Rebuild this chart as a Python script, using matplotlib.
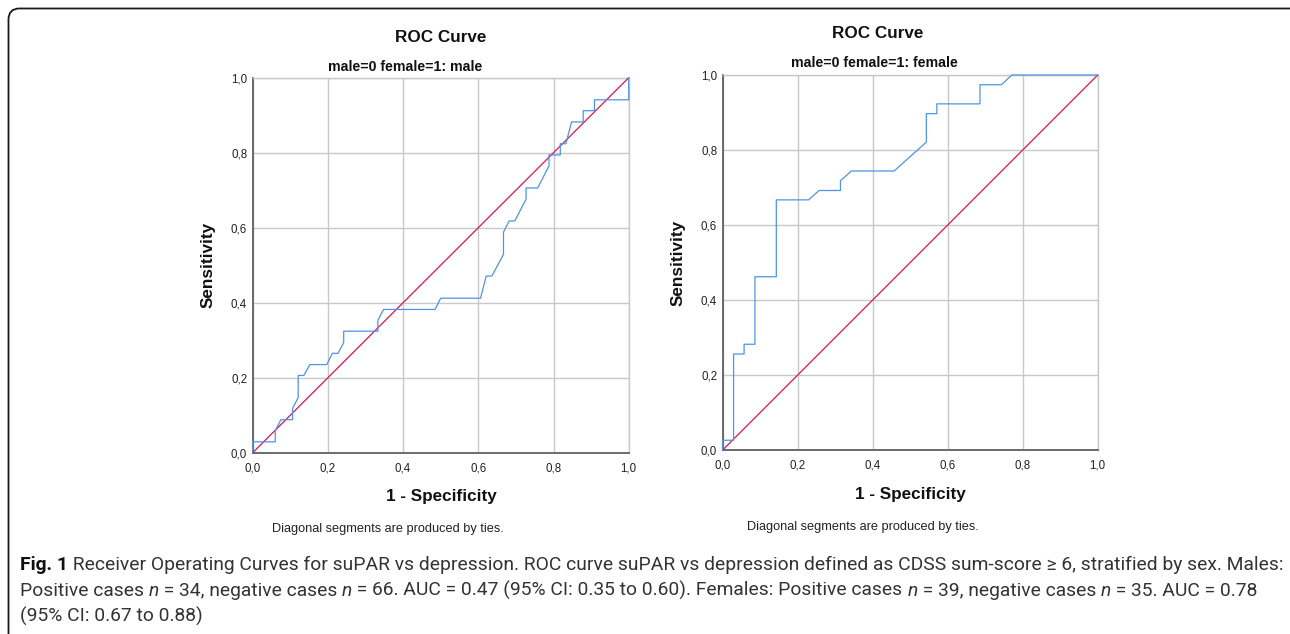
import matplotlib

matplotlib.use("Agg")
import matplotlib.pyplot as plt
from matplotlib.patches import FancyBboxPatch
from matplotlib.transforms import IdentityTransform

W, H = 1290, 634

# ROC curve (1 - specificity, sensitivity)
male_fpr = [0.0, 0.0, 0.060, 0.060, 0.075, 0.106, 0.106, 0.121, 0.121, 0.136, 0.152, 0.197,
            0.212, 0.227, 0.242, 0.242, 0.333, 0.333, 0.348, 0.485, 0.500, 0.606, 0.621, 0.636,
            0.667, 0.667, 0.682, 0.697, 0.727, 0.727, 0.758, 0.788, 0.788, 0.818, 0.818, 0.833,
            0.848, 0.879, 0.879, 0.909, 0.909, 1.0, 1.0]
male_tpr = [0.0, 0.029, 0.029, 0.059, 0.088, 0.088, 0.118, 0.147, 0.206, 0.206, 0.235, 0.235,
            0.265, 0.265, 0.294, 0.324, 0.324, 0.353, 0.382, 0.382, 0.412, 0.412, 0.471, 0.471,
            0.529, 0.588, 0.618, 0.618, 0.676, 0.706, 0.706, 0.765, 0.794, 0.794, 0.824, 0.824,
            0.882, 0.882, 0.912, 0.912, 0.941, 0.941, 1.0]

female_fpr = [0.0, 0.0, 0.029, 0.029, 0.057, 0.057, 0.086, 0.086, 0.143, 0.143, 0.229, 0.257,
              0.314, 0.314, 0.343, 0.457, 0.543, 0.543, 0.571, 0.571, 0.686, 0.686, 0.743,
              0.771, 1.0]
female_tpr = [0.0, 0.026, 0.026, 0.256, 0.256, 0.282, 0.282, 0.462, 0.462, 0.667, 0.667, 0.692,
              0.692, 0.718, 0.744, 0.744, 0.821, 0.897, 0.897, 0.923, 0.923, 0.974, 0.974,
              1.0, 1.0]

diag = [0.0, 1.0]
ticks = [0.0, 0.2, 0.4, 0.6, 0.8, 1.0]
tick_labels = ["0,0", "0,2", "0,4", "0,6", "0,8", "1,0"]
subtitles = ["male=0 female=1: male", "male=0 female=1: female"]

BLUE = "#4f94e3"
RED = "#e0134f"
GRID = "#c8c8c8"
SANS = ["Liberation Sans", "DejaVu Sans"]
CAPTION_FONT = ["Roboto", "DejaVu Sans"]


def px(x, y):
    return x / W, 1 - y / H


def draw_panel(fig, rect, fpr, tpr, subtitle, pos):
    ax = fig.add_axes(rect)
    ax.plot(diag, diag, color=RED, lw=0.9, zorder=3, clip_on=False)
    ax.plot(fpr, tpr, color=BLUE, lw=0.9, zorder=4, clip_on=False)
    ax.set_xlim(0, 1)
    ax.set_ylim(0, 1)
    ax.set_xticks(ticks)
    ax.set_yticks(ticks)
    ax.set_xticklabels(tick_labels, fontfamily=SANS, fontsize=8.3)
    ax.set_yticklabels(tick_labels, fontfamily=SANS, fontsize=8.3)
    ax.tick_params(axis="both", length=0, colors="#222222")
    ax.tick_params(axis="x", pad=7)
    ax.tick_params(axis="y", pad=4)
    ax.grid(True, color=GRID, lw=1.0, zorder=0)
    ax.set_axisbelow(True)
    for side in ("top", "right"):
        ax.spines[side].set_color(GRID)
        ax.spines[side].set_linewidth(1.0)
    for side in ("left", "bottom"):
        ax.spines[side].set_color("#606060")
        ax.spines[side].set_linewidth(1.3)

    bold = dict(fontfamily=SANS, fontweight="bold", color="#111111")
    fig.text(*px(*pos["title"]), "ROC Curve", fontsize=12.3, ha="center", va="center", **bold)
    fig.text(*px(*pos["sub"]), subtitle, fontsize=10.2, ha="center", va="center", **bold)
    fig.text(*px(*pos["ylab"]), "Sensitivity", fontsize=12.3, ha="center", va="center",
             rotation=90, **bold)
    fig.text(*px(*pos["xlab"]), "1 - Specificity", fontsize=12.3, ha="center", va="center", **bold)
    fig.text(*px(*pos["note"]), "Diagonal segments are produced by ties.", fontsize=9.2,
             ha="center", va="center", fontfamily=SANS, color="#222222")
    return ax


def run_style(style, size):
    kw = dict(fontsize=size, fontfamily=CAPTION_FONT, color="#333333")
    if style == "b":
        kw.update(fontweight="bold", color="#111111")
    elif style == "i":
        kw.update(fontstyle="italic")
    return kw


def text_width(fig, renderer, s, **kw):
    a = fig.text(0, 0, "|" + s + "|", **kw)
    b = fig.text(0, 0, "||", **kw)
    w = a.get_window_extent(renderer).width - b.get_window_extent(renderer).width
    a.remove()
    b.remove()
    return w


def line_width(fig, renderer, runs, size):
    return sum(text_width(fig, renderer, s, **run_style(st, size)) for s, st in runs)


def draw_runs(fig, renderer, x, y, runs, size):
    for s, style in runs:
        kw = run_style(style, size)
        fig.text(*px(x, y), s, ha="left", va="baseline", **kw)
        x += text_width(fig, renderer, s, **kw)


fig = plt.figure(figsize=(W / 100, H / 100), dpi=100)
fig.patch.set_facecolor("white")

draw_panel(fig, [252.7 / W, 1 - 452.7 / H, 376 / W, 375 / H], male_fpr, male_tpr, subtitles[0],
           dict(title=(441, 37), sub=(405, 67), ylab=(208, 265), xlab=(441, 497), note=(388, 529)))
draw_panel(fig, [722.7 / W, 1 - 450 / H, 375 / W, 375 / H], female_fpr, female_tpr, subtitles[1],
           dict(title=(878, 34), sub=(874, 63), ylab=(678, 263), xlab=(910, 494), note=(863, 527)))

frame = FancyBboxPatch((8.5, -20), 1300, 634 - 8.5 + 20, boxstyle="round,pad=0,rounding_size=11",
                       transform=IdentityTransform(), facecolor="none", edgecolor="#1a1a1a",
                       lw=1.3)
fig.patches.append(frame)

renderer = fig.canvas.get_renderer()
caption = [
    [("Fig. 1", "b"),
     (" Receiver Operating Curves for suPAR vs depression. ROC curve suPAR vs depression "
      "defined as CDSS sum-score \u2265 6, stratified by sex. Males:", "r")],
    [("Positive cases ", "r"), ("n", "i"), (" = 34, negative cases ", "r"), ("n", "i"),
     (" = 66. AUC = 0.47 (95% CI: 0.35 to 0.60). Females: Positive cases ", "r"), ("n", "i"),
     (" = 39, negative cases ", "r"), ("n", "i"), (" = 35. AUC = 0.78", "r")],
    [("(95% CI: 0.67 to 0.88)", "r")],
]
# first caption line runs from x=20 to about x=1278 in the reference
cap_size = 12.0 * 1258 / line_width(fig, renderer, caption[0], 12.0)
for i, line in enumerate(caption):
    draw_runs(fig, renderer, 20, 570 + 26 * i, line, cap_size)

fig.savefig("out.png", dpi=100)
